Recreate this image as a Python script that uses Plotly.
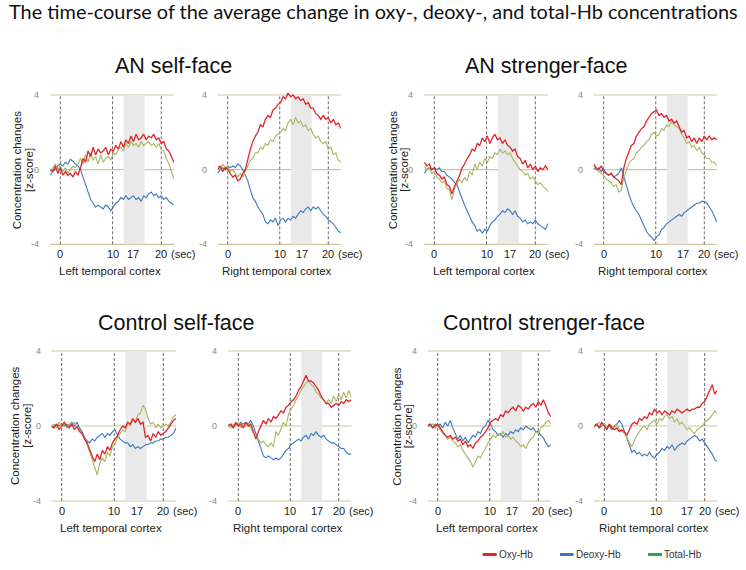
import plotly.graph_objects as go

# ---------------- data (z-score) ----------------
TIME = [-2.0, -1.5, -1.0, -0.5, 0.0, 0.5, 1.0, 1.5, 2.0, 2.5,
        3.0, 3.5, 4.0, 4.5, 5.0, 5.5, 6.0, 6.5, 7.0, 7.5,
        8.0, 8.5, 9.0, 9.5, 10.0, 10.5, 11.0, 11.5, 12.0, 12.5,
        13.0, 13.5, 14.0, 14.5, 15.0, 15.5, 16.0, 16.5, 17.0, 17.5,
        18.0, 18.5, 19.0, 19.5, 20.0, 20.5, 21.0, 21.5, 22.0, 22.5]

SERIES_NAMES = ["Oxy-Hb", "Deoxy-Hb", "Total-Hb"]
GROUP_TITLES = ["AN self-face", "AN strenger-face", "Control self-face", "Control strenger-face"]
REGIONS = ["Left temporal cortex", "Right temporal cortex"]
X_TICK_LABELS = ["0", "10", "17", "20", "(sec)"]
Y_TICK_LABELS = ["4", "0", "-4"]

# AN self-face, left
an_self_left_oxy = [0.0, -0.1, 0.2, -0.2, 0.1, -0.3, -0.1, -0.3, -0.2, -0.4,
                    -0.1, -0.3, 0.1, 0.6, 0.4, 1.0, 0.7, 1.2, 0.8, 1.1,
                    0.9, 1.0, 1.2, 0.8, 1.1, 1.0, 1.3, 1.1, 1.5, 1.2,
                    1.6, 1.4, 1.8, 1.5, 1.9, 1.6, 1.7, 1.9, 1.6, 1.8,
                    1.7, 1.9, 1.6, 1.7, 1.4, 1.5, 1.1, 1.0, 0.7, 0.4]
an_self_left_deoxy = [-0.3, -0.1, 0.0, 0.2, 0.3, 0.2, 0.4, 0.3, 0.55, 0.45,
                      0.3, 0.2, 0.0, -0.4, -0.9, -1.3, -1.6, -1.8, -2.0, -1.9,
                      -2.0, -2.1, -1.9, -2.0, -2.2, -2.0, -1.8, -1.7, -1.5, -1.6,
                      -1.4, -1.6, -1.5, -1.4, -1.6, -1.5, -1.7, -1.4, -1.5, -1.3,
                      -1.2, -1.4, -1.3, -1.5, -1.4, -1.6, -1.5, -1.7, -1.8, -1.9]
an_self_left_total = [-0.1, 0.1, 0.3, 0.0, 0.2, -0.1, 0.1, -0.2, 0.0, 0.2,
                      0.1, 0.3, 0.6, 0.3, 0.8, 0.4, 0.9, 0.5, 0.7, 0.3,
                      0.8, 0.4, 0.6, 0.7, 0.5, 0.9, 0.8, 1.1, 1.2, 1.0,
                      1.4, 1.2, 1.5, 1.3, 1.4, 1.2, 1.5, 1.3, 1.4, 1.5,
                      1.3, 1.4, 1.2, 1.4, 1.1, 1.0, 0.6, 0.3, -0.1, -0.5]

# AN self-face, right
an_self_right_oxy = [0.0, 0.2, -0.1, 0.1, 0.0, -0.2, -0.4, -0.3, -0.6, -0.5,
                     -0.2, 0.0, 0.6, 1.1, 1.5, 1.8, 2.0, 2.4, 2.3, 2.7,
                     2.9, 2.8, 3.2, 3.3, 3.5, 3.6, 3.9, 3.8, 4.1, 3.9,
                     4.0, 3.8, 3.9, 3.7, 3.8, 3.5, 3.6, 3.3, 3.3, 3.0,
                     2.9, 2.7, 2.9, 2.7, 2.8, 2.5, 2.7, 2.4, 2.5, 2.2]
an_self_right_deoxy = [-0.2, 0.0, 0.1, 0.0, 0.2, 0.1, 0.2, 0.1, 0.3, 0.2,
                       0.0, -0.3, -0.6, -1.1, -1.5, -1.7, -2.0, -2.2, -2.4, -2.8,
                       -2.9, -2.7, -2.8, -2.6, -3.0, -2.7, -2.6, -2.8, -2.6, -2.7,
                       -2.5, -2.6, -2.4, -2.2, -2.3, -2.1, -2.0, -2.2, -2.0, -2.1,
                       -2.0, -2.2, -2.4, -2.5, -2.7, -2.8, -2.9, -3.1, -3.3, -3.4]
an_self_right_total = [0.2, 0.0, 0.3, 0.1, 0.2, -0.1, 0.0, -0.2, -0.4, -0.2,
                       -0.4, -0.1, 0.2, 0.5, 0.6, 0.9, 0.9, 1.2, 1.1, 1.4,
                       1.3, 1.6, 1.5, 1.8, 1.9, 2.0, 2.2, 2.1, 2.5, 2.7,
                       2.4, 2.8, 2.5, 2.6, 2.3, 2.4, 2.1, 2.2, 1.9, 1.7,
                       1.8, 1.5, 1.4, 1.5, 1.1, 1.2, 0.8, 0.9, 0.5, 0.4]

# AN stranger-face, left
an_str_left_oxy = [0.4, 0.2, 0.3, 0.0, 0.1, -0.2, -0.3, -0.5, -0.4, -0.8,
                   -0.9, -1.3, -0.9, -0.6, -0.3, 0.1, 0.3, 0.6, 0.8, 1.1,
                   1.0, 1.4, 1.3, 1.7, 1.5, 1.8, 1.4, 1.7, 1.9, 1.6,
                   1.7, 1.4, 1.6, 1.3, 1.2, 1.0, 1.1, 0.7, 0.6, 0.3,
                   0.5, 0.1, 0.3, 0.0, 0.2, -0.1, 0.1, 0.0, 0.2, 0.0]
an_str_left_deoxy = [-0.2, 0.0, 0.1, 0.0, 0.1, 0.0, 0.1, -0.1, -0.1, -0.3,
                     -0.4, -0.5, -0.7, -0.8, -1.2, -1.6, -1.9, -2.2, -2.5, -2.8,
                     -3.0, -3.3, -3.2, -3.4, -3.2, -3.3, -3.0, -2.8, -2.7, -2.5,
                     -2.4, -2.2, -2.3, -2.1, -2.2, -2.4, -2.2, -2.5, -2.6, -2.8,
                     -2.7, -2.9, -2.8, -2.9, -2.7, -2.9, -3.0, -3.1, -3.2, -2.9]
an_str_left_total = [0.2, 0.0, 0.1, -0.2, -0.1, -0.4, -0.5, -0.7, -0.6, -1.0,
                     -1.1, -1.6, -1.0, -0.8, -0.5, -0.7, -0.4, -0.6, -0.1, -0.3,
                     0.3, 0.0, 0.4, 0.2, 0.6, 0.4, 0.7, 0.6, 0.9, 0.8,
                     1.1, 0.9, 1.0, 0.8, 0.9, 0.6, 0.4, 0.2, 0.0, -0.1,
                     -0.3, -0.2, -0.5, -0.4, -0.6, -0.8, -0.7, -0.9, -1.0, -1.2]

# AN stranger-face, right
an_str_right_oxy = [0.3, 0.1, 0.0, 0.2, -0.1, -0.2, -0.3, -0.2, -0.4, -0.5,
                    -0.6, -0.8, 0.1, 0.6, 1.0, 1.3, 1.4, 1.8, 2.0, 2.2,
                    2.3, 2.6, 2.8, 3.0, 3.1, 3.2, 2.9, 3.0, 2.8, 2.9,
                    2.6, 2.7, 2.5, 2.6, 2.3, 2.0, 2.1, 1.7, 1.8, 1.5,
                    1.7, 1.4, 1.7, 1.5, 1.8, 1.6, 1.8, 1.6, 1.7, 1.6]
an_str_right_deoxy = [0.1, 0.0, 0.1, -0.1, 0.0, -0.2, -0.3, -0.2, -0.4, -0.3,
                      -0.2, 0.1, -0.4, -0.9, -1.3, -1.7, -2.0, -2.2, -2.4, -2.7,
                      -3.0, -3.3, -3.5, -3.6, -3.8, -3.6, -3.5, -3.2, -3.1, -2.9,
                      -2.8, -2.7, -2.6, -2.5, -2.4, -2.5, -2.3, -2.2, -2.1, -2.0,
                      -1.9, -1.8, -1.8, -1.7, -1.7, -1.8, -2.0, -2.2, -2.5, -2.8]
an_str_right_total = [0.3, 0.0, -0.1, -0.2, -0.3, -0.5, -0.6, -0.7, -0.9, -0.8,
                      -1.2, -1.1, -0.4, 0.0, 0.3, 0.5, 0.6, 0.9, 1.0, 1.2,
                      1.3, 1.5, 1.6, 1.9, 2.0, 1.8, 1.9, 2.2, 2.1, 2.4,
                      2.3, 2.6, 2.4, 2.3, 2.2, 1.9, 1.7, 1.4, 1.5, 1.2,
                      1.3, 1.0, 1.2, 0.9, 0.8, 0.6, 0.6, 0.4, 0.4, 0.2]

# Control self-face, left
ctl_self_left_oxy = [0.0, -0.1, 0.1, -0.2, 0.0, 0.2, 0.0, -0.1, 0.1, -0.2,
                     0.0, -0.3, -0.4, -0.7, -0.9, -1.3, -1.6, -1.9, -1.5, -1.8,
                     -1.3, -1.5, -1.1, -1.3, -0.9, -0.7, -0.5, -0.2, 0.0, -0.1,
                     0.2, 0.1, 0.4, 0.2, 0.4, 0.1, 0.2, -0.6, -0.5, -0.8,
                     -0.4, -0.6, -0.3, -0.5, -0.4, -0.3, -0.1, 0.1, 0.3, 0.4]
ctl_self_left_deoxy = [-0.1, 0.0, 0.1, 0.0, 0.1, 0.0, 0.1, 0.0, 0.2, 0.0,
                       0.2, -0.1, -0.3, -0.6, -0.8, -0.9, -0.7, -0.8, -0.6, -0.5,
                       -0.4, -0.6, -0.4, -0.5, -0.3, -0.2, -0.5, -0.7, -0.8, -0.9,
                       -0.9, -1.1, -1.0, -1.2, -1.1, -1.2, -1.1, -1.0, -1.0, -0.9,
                       -0.9, -0.8, -0.8, -0.7, -0.7, -0.6, -0.6, -0.5, -0.4, -0.1]
ctl_self_left_total = [0.0, 0.1, -0.1, 0.2, 0.0, 0.1, -0.1, 0.1, 0.0, 0.2,
                       -0.1, -0.2, -0.4, -0.6, -1.0, -1.4, -1.9, -2.2, -2.6, -2.0,
                       -1.7, -1.9, -1.4, -1.6, -1.1, -1.0, -0.6, -0.4, -0.2, -0.3,
                       0.1, 0.0, 0.3, 0.2, 0.6, 0.7, 1.1, 0.9, 0.4, 0.1,
                       0.2, -0.1, 0.1, -0.1, 0.0, 0.1, 0.0, 0.2, 0.5, 0.6]

# Control self-face, right
ctl_self_right_oxy = [0.0, 0.1, -0.1, 0.2, 0.0, 0.1, -0.1, 0.2, 0.0, 0.1,
                      -0.3, -0.7, -0.3, 0.0, 0.3, 0.1, 0.4, 0.2, 0.5, 0.4,
                      0.6, 0.8, 0.7, 1.0, 1.1, 1.3, 1.4, 1.6, 1.9, 2.1,
                      2.4, 2.7, 2.4, 2.4, 2.3, 2.1, 1.9, 1.6, 1.4, 1.2,
                      1.2, 1.0, 1.1, 1.2, 1.1, 1.3, 1.2, 1.4, 1.3, 1.4]
ctl_self_right_deoxy = [0.0, 0.1, -0.1, 0.1, 0.0, 0.2, 0.1, 0.2, 0.1, 0.3,
                        0.0, -0.4, -0.9, -1.3, -1.6, -1.7, -1.6, -1.7, -1.8, -1.7,
                        -1.8, -1.7, -1.5, -1.3, -1.2, -1.0, -0.9, -0.8, -0.7, -0.8,
                        -0.6, -0.5, -0.7, -0.4, -0.5, -0.3, -0.5, -0.6, -0.5, -0.7,
                        -0.8, -0.9, -0.9, -1.0, -1.1, -1.2, -1.2, -1.4, -1.5, -1.5]
ctl_self_right_total = [0.1, -0.1, 0.1, 0.0, 0.2, -0.1, 0.1, 0.0, 0.1, -0.1,
                        -0.4, -0.5, -0.7, -0.9, -0.8, -1.0, -1.1, -0.9, -1.1, -0.3,
                        -0.5, -0.1, 0.2, 0.0, 0.6, 0.9, 1.1, 1.4, 1.6, 1.9,
                        2.1, 2.3, 2.4, 2.2, 2.1, 1.8, 1.7, 1.5, 1.4, 1.2,
                        1.4, 1.2, 1.6, 1.3, 1.7, 1.4, 1.8, 1.5, 1.9, 1.5]

# Control stranger-face, left
ctl_str_left_oxy = [0.0, 0.1, -0.1, 0.0, 0.1, -0.1, -0.3, -0.5, -0.6, -0.5,
                    -0.7, -0.6, -0.8, -0.7, -1.0, -0.8, -1.1, -1.0, -1.2, -0.9,
                    -0.8, -0.6, -0.5, -0.3, -0.1, 0.2, 0.3, 0.4, 0.3, 0.6,
                    0.5, 0.8, 0.7, 0.9, 1.0, 0.8, 1.1, 1.0, 0.8, 1.0,
                    0.9, 1.1, 1.2, 1.0, 1.3, 1.1, 1.4, 1.1, 0.7, 0.5]
ctl_str_left_deoxy = [0.0, 0.1, -0.1, 0.1, 0.0, 0.1, -0.1, 0.2, 0.0, 0.3,
                      -0.1, -0.4, -0.7, -0.5, -0.8, -0.6, -0.9, -0.7, -0.5, -0.6,
                      -0.3, -0.4, -0.1, 0.0, 0.3, 0.1, -0.2, -0.3, -0.5, -0.4,
                      -0.6, -0.4, -0.5, -0.3, -0.4, -0.2, -0.3, -0.1, -0.2, 0.0,
                      -0.1, -0.2, -0.1, -0.3, -0.3, -0.5, -0.6, -0.9, -1.1, -1.0]
ctl_str_left_total = [0.1, 0.0, 0.1, -0.1, 0.0, -0.2, -0.4, -0.5, -0.7, -0.6,
                      -0.8, -0.9, -1.1, -1.0, -1.3, -1.5, -1.7, -1.9, -2.2, -1.9,
                      -1.6, -1.7, -1.4, -1.2, -0.9, -0.7, -0.5, -0.6, -0.4, -0.5,
                      -0.3, -0.6, -0.5, -0.7, -0.6, -0.8, -0.9, -1.1, -1.0, -1.2,
                      -0.9, -0.7, -0.6, -0.3, -0.4, -0.1, 0.0, 0.2, 0.3, 0.1]

# Control stranger-face, right
ctl_str_right_oxy = [0.0, 0.1, -0.1, 0.2, 0.0, -0.2, 0.1, -0.1, -0.2, -0.1,
                     -0.3, -0.2, -0.3, -0.5, -0.2, 0.1, 0.2, 0.1, 0.4, 0.3,
                     0.5, 0.4, 0.7, 0.6, 0.9, 0.7, 0.8, 0.6, 0.8, 0.7,
                     0.6, 0.8, 0.7, 0.9, 0.8, 0.7, 0.8, 0.9, 0.8, 0.9,
                     0.9, 1.0, 1.0, 1.2, 1.3, 1.6, 1.9, 2.2, 1.7, 1.9]
ctl_str_right_deoxy = [0.0, 0.1, -0.1, 0.0, 0.1, -0.1, 0.0, -0.2, 0.0, 0.1,
                       0.3, 0.1, -0.3, -0.7, -1.1, -1.4, -1.3, -1.5, -1.4, -1.6,
                       -1.5, -1.6, -1.4, -1.6, -1.7, -1.5, -1.4, -1.2, -1.3, -1.1,
                       -1.2, -1.0, -1.3, -1.1, -1.0, -0.9, -1.0, -0.8, -0.7, -0.6,
                       -0.5, -0.6, -0.8, -0.7, -0.9, -1.1, -1.3, -1.5, -1.8, -1.9]
ctl_str_right_total = [-0.1, 0.1, 0.2, 0.0, 0.1, -0.1, 0.1, 0.0, -0.1, 0.1,
                       -0.2, -0.3, -0.4, -0.6, -0.9, -1.1, -0.8, -0.5, -0.3, -0.1,
                       0.0, -0.2, 0.1, 0.2, 0.3, 0.1, 0.4, 0.3, 0.5, 0.6,
                       0.4, 0.5, 0.2, 0.4, 0.1, 0.2, 0.0, -0.2, -0.1, -0.3,
                       -0.4, -0.2, -0.1, 0.0, 0.2, 0.3, 0.4, 0.6, 0.8, 0.7]

PANELS = [
    (an_self_left_oxy, an_self_left_deoxy, an_self_left_total),
    (an_self_right_oxy, an_self_right_deoxy, an_self_right_total),
    (an_str_left_oxy, an_str_left_deoxy, an_str_left_total),
    (an_str_right_oxy, an_str_right_deoxy, an_str_right_total),
    (ctl_self_left_oxy, ctl_self_left_deoxy, ctl_self_left_total),
    (ctl_self_right_oxy, ctl_self_right_deoxy, ctl_self_right_total),
    (ctl_str_left_oxy, ctl_str_left_deoxy, ctl_str_left_total),
    (ctl_str_right_oxy, ctl_str_right_deoxy, ctl_str_right_total),
]

# event markers (seconds)
DASHED_AT = [0, 10.35, 20]
BAND = (12.55, 16.7)

# ---------------- layout geometry (pixels) ----------------
W, H = 746, 570
PX0 = [60.3, 227.7, 434.3, 603.7, 61.7, 238.3, 437.7, 604.3]   # x pixel of t=0
SPX = [5.05, 5.03, 5.05, 5.03, 5.08, 5.02, 5.03, 5.02]         # pixels per second
ROW_Y4 = [95.0, 351.0]      # pixel of y=+4
ROW_YM4 = [244.3, 501.0]    # pixel of y=-4
TICK17_AT = [14.3, 14.8, 14.9, 15.8, 14.8, 15.6, 14.7, 16.5]
X_RANGE = [-2.0, 22.5]
Y_PAD = 0.4

COL_OXY = "#e0262d"
COL_DEOXY = "#3a78bd"
COL_TOTAL = "#a9b560"
COL_TOTAL_LEGEND = "#35a24f"
GRID = "#cec59c"
FONT = "Liberation Sans, Arial, sans-serif"


def fx(px):
    return px / W


def fy(py):
    return 1 - py / H


fig = go.Figure()
shapes = []
annotations = []

for i, (oxy, deoxy, total) in enumerate(PANELS):
    n = i + 1
    xa = "x" if n == 1 else f"x{n}"
    ya = "y" if n == 1 else f"y{n}"
    row = i // 4
    p0, s = PX0[i], SPX[i]
    y4, ym4 = ROW_Y4[row], ROW_YM4[row]
    u = (ym4 - y4) / 8.0
    xdom = [fx(p0 + X_RANGE[0] * s), fx(p0 + X_RANGE[1] * s)]
    ydom = [fy(ym4 + Y_PAD * u), fy(y4 - Y_PAD * u)]
    fig.update_layout(**{
        ("xaxis" if n == 1 else f"xaxis{n}"): dict(
            domain=xdom, range=X_RANGE, visible=False, anchor=ya, fixedrange=True),
        ("yaxis" if n == 1 else f"yaxis{n}"): dict(
            domain=ydom, range=[-4 - Y_PAD, 4 + Y_PAD], visible=False, anchor=xa,
            fixedrange=True),
    })

    # grey stimulus band
    shapes.append(dict(type="rect", xref=xa, yref=ya, x0=BAND[0], x1=BAND[1],
                       y0=-4, y1=4, fillcolor="#e9e9e9", line=dict(width=0),
                       layer="below"))
    # horizontal reference lines
    for yv in (4, 0, -4):
        shapes.append(dict(type="line", xref=f"{xa} domain", yref=ya, x0=0, x1=1,
                           y0=yv, y1=yv, line=dict(color=GRID, width=1.2),
                           layer="below"))
    # dashed vertical markers
    for xv in DASHED_AT:
        shapes.append(dict(type="line", xref=xa, yref=ya, x0=xv, x1=xv,
                           y0=-4, y1=4, line=dict(color="#6a6a6a", width=1,
                                                  dash="3px,2px"),
                           layer="below"))

    for vals, col, nm, w in ((deoxy, COL_DEOXY, SERIES_NAMES[1], 1.1),
                             (total, COL_TOTAL, SERIES_NAMES[2], 1.1),
                             (oxy, COL_OXY, SERIES_NAMES[0], 1.3)):
        fig.add_trace(go.Scatter(x=TIME, y=vals, mode="lines", name=nm,
                                 line=dict(color=col, width=w),
                                 xaxis=xa, yaxis=ya, showlegend=False,
                                 hoverinfo="skip"))

    # x tick labels
    tick_x = [0, DASHED_AT[1], TICK17_AT[i], 20]
    for lab, xv in zip(X_TICK_LABELS[:4], tick_x):
        annotations.append(dict(text=lab, x=xv, y=-4, xref=xa, yref=ya,
                                xanchor="center", yanchor="middle", yshift=-9.5,
                                showarrow=False,
                                font=dict(family=FONT, size=11, color="#222")))
    annotations.append(dict(text=X_TICK_LABELS[4], x=21.6, y=-4, xref=xa, yref=ya,
                            xanchor="left", yanchor="middle", yshift=-9.5,
                            showarrow=False,
                            font=dict(family=FONT, size=11, color="#222")))
    # y tick labels
    for lab, yv in zip(Y_TICK_LABELS, (4, 0, -4)):
        annotations.append(dict(text=lab, x=0, y=yv, xref=f"{xa} domain", yref=ya,
                                xanchor="right", yanchor="middle", xshift=-9,
                                showarrow=False,
                                font=dict(family=FONT, size=9, color="#888")))
    # region label
    annotations.append(dict(text=REGIONS[i % 2], x=9.8, y=-4, xref=xa, yref=ya,
                            xanchor="center", yanchor="middle", yshift=-26.5,
                            showarrow=False,
                            font=dict(family=FONT, size=11.5, color="#222")))

# y-axis titles (left panel of each group)
YT_POS = {0: (16.7, 28.3), 2: (392.7, 404.0), 4: (15.0, 26.7), 6: (396.7, 408.3)}
for i, (xa1, xa2) in YT_POS.items():
    n = i + 1
    ya = "y" if n == 1 else f"y{n}"
    for txt, xp in (("Concentration changes", xa1), ("[z-score]", xa2)):
        annotations.append(dict(text=txt, x=fx(xp), y=0, xref="paper", yref=ya,
                                xanchor="center", yanchor="middle", textangle=-90,
                                showarrow=False,
                                font=dict(family=FONT, size=11.5, color="#222")))

# group titles
for txt, (xp, yp) in zip(GROUP_TITLES, [(173.5, 66), (546, 66), (176, 323), (544, 323)]):
    annotations.append(dict(text=txt, x=fx(xp), y=fy(yp), xref="paper", yref="paper",
                            xanchor="center", yanchor="middle", showarrow=False,
                            font=dict(family=FONT, size=21.5, color="#111")))

# main title
annotations.append(dict(
    text="The time-course of the average change in oxy-, deoxy-, and total-Hb concentrations",
    x=fx(373), y=fy(11), xref="paper", yref="paper", xanchor="center",
    yanchor="middle", showarrow=False,
    font=dict(family="Lato, sans-serif", size=19.9, color="#111")))

# legend
LEG = [(SERIES_NAMES[0], COL_OXY, 482.7, 496.7),
       (SERIES_NAMES[1], COL_DEOXY, 560.0, 573.5),
       (SERIES_NAMES[2], COL_TOTAL_LEGEND, 648.0, 662.0)]
for nm, col, x0, x1 in LEG:
    shapes.append(dict(type="line", xref="paper", yref="paper", x0=fx(x0), x1=fx(x1),
                       y0=fy(554.5), y1=fy(554.5), line=dict(color=col, width=3)))
    annotations.append(dict(text=nm, x=fx(x1), y=fy(554), xref="paper", yref="paper",
                            xanchor="left", yanchor="middle", showarrow=False,
                            font=dict(family=FONT, size=10, color="#333")))

fig.update_layout(width=W, height=H, margin=dict(l=0, r=0, t=0, b=0),
                  paper_bgcolor="white", plot_bgcolor="white",
                  shapes=shapes, annotations=annotations, showlegend=False)

fig.write_html("out.html",
               config={"displayModeBar": False, "staticPlot": True},
               post_script="document.body.style.margin='0px';"
                           "document.body.style.overflow='hidden';")
